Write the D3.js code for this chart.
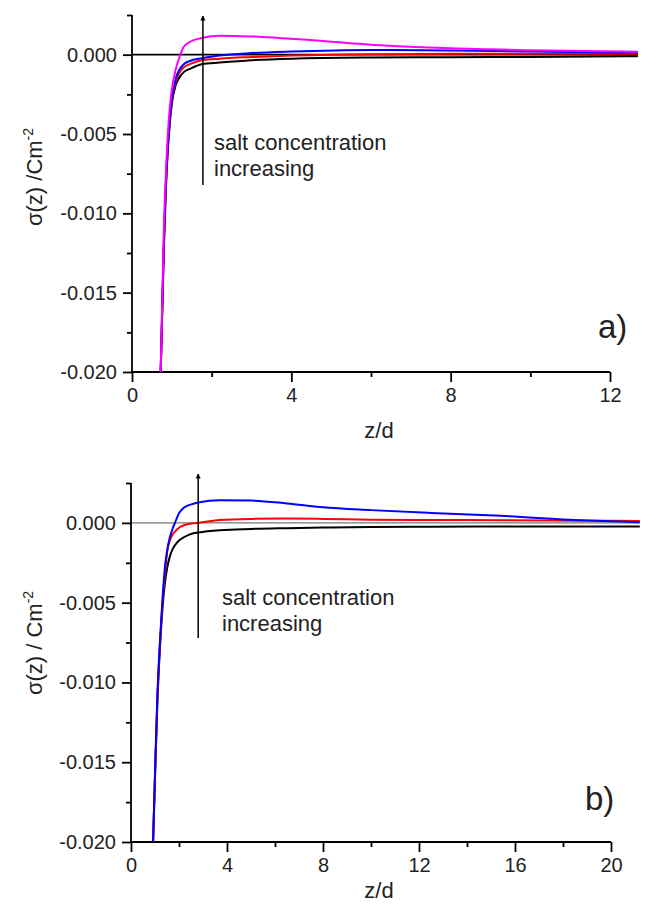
<!DOCTYPE html>
<html>
<head>
<meta charset="utf-8">
<script src="https://cdnjs.cloudflare.com/ajax/libs/d3/7.8.5/d3.min.js"></script>
<style>
  body { margin: 0; background: #fff; }
  text { font-family: Arial, "Liberation Sans", sans-serif; fill: #222; }
</style>
</head>
<body>
<div id="chart"></div>
<script>
// panel a) data
var zA = [0.72, 0.76, 0.80, 0.85, 0.90, 0.95, 1.0, 1.1, 1.2, 1.3, 1.45, 1.75, 2.2, 3.0, 4.0, 6.0, 8.0, 10.0, 12.7];
var blackA = [-0.020, -0.0162, -0.0122, -0.0085, -0.006, -0.0043, -0.0031, -0.0019, -0.0014, -0.0011, -0.0009, -0.0006, -0.0005, -0.00035, -0.00025, -0.00018, -0.00016, -0.00014, -0.0001];
var redA = [-0.020, -0.016, -0.012, -0.0083, -0.0058, -0.0041, -0.0029, -0.0017, -0.0011, -0.0008, -0.0006, -0.00035, -0.00025, -0.00015, -0.00006, 0.00003, 0.00005, 0.00005, 0.00005];
var blueA = [-0.020, -0.0158, -0.0118, -0.0081, -0.0057, -0.004, -0.0028, -0.0015, -0.0009, -0.0006, -0.0004, -0.00022, -0.00005, 0.0001, 0.0002, 0.0003, 0.00027, 0.0002, 0.00012];
var magentaA = [-0.020, -0.0155, -0.011, -0.0075, -0.005, -0.0033, -0.0022, -0.0009, -0.0001, 0.0005, 0.0008, 0.00105, 0.0012, 0.00115, 0.001, 0.00063, 0.0004, 0.00028, 0.00018];

// panel b) data
var zB = [0.92, 1.0, 1.1, 1.2, 1.32, 1.42, 1.51, 1.62, 1.75, 1.83, 2.0, 2.2, 2.6, 2.8, 3.7, 5.0, 6.5, 8.0, 10.0, 12.5, 15.4, 18.8, 21.2];
var blackB = [-0.020, -0.016, -0.0112, -0.008, -0.0052, -0.0037, -0.0028, -0.0021, -0.0016, -0.0014, -0.0011, -0.0009, -0.00065, -0.0006, -0.00046, -0.00038, -0.00033, -0.00029, -0.00025, -0.00024, -0.00023, -0.00022, -0.00022];
var redB = [-0.020, -0.0158, -0.011, -0.0078, -0.0048, -0.0031, -0.0018, -0.0011, -0.0007, -0.00055, -0.0003, -0.00015, -0.00003, 0.0, 0.00018, 0.00025, 0.00027, 0.00025, 0.0002, 0.00018, 0.00017, 0.00014, 0.00012];
var blueB = [-0.020, -0.0157, -0.0108, -0.0076, -0.0046, -0.0027, -0.0017, -0.0009, -0.0003, 0.0, 0.0006, 0.00095, 0.0012, 0.00128, 0.00142, 0.0014, 0.00122, 0.00098, 0.0008, 0.00062, 0.00044, 0.00016, 0.00004];

var yTicks = [0.000, -0.005, -0.010, -0.015, -0.020];
var xTicksA = [0, 4, 8, 12];
var xTicksB = [0, 4, 8, 12, 16, 20];

var svg = d3.select("#chart").append("svg")
  .attr("width", 651)
  .attr("height", 908);

var defs = svg.append("defs");
defs.append("marker")
  .attr("id", "arrow")
  .attr("viewBox", "0 0 10 10")
  .attr("refX", 9).attr("refY", 5)
  .attr("markerWidth", 5).attr("markerHeight", 10)
  .attr("markerUnits", "userSpaceOnUse")
  .attr("orient", "auto")
  .append("path")
  .attr("d", "M0,0 L10,5 L0,10 z")
  .attr("fill", "#000");

function drawPanel(opt) {
  var g = svg.append("g");
  var x = d3.scaleLinear().domain([0, opt.xMax]).range([opt.left, opt.right]);
  var y = d3.scaleLinear().domain([-0.020, 0.0025]).range([opt.bottom, opt.top]);

  // zero line
  g.append("line")
    .attr("x1", x(0)).attr("x2", x(opt.zeroEnd))
    .attr("y1", y(0)).attr("y2", y(0))
    .attr("stroke", opt.zeroColor)
    .attr("stroke-width", opt.zeroWidth);

  // x axis
  var xAxis = d3.axisBottom(x).tickValues(opt.xTicks).tickSize(10).tickPadding(6).tickFormat(d3.format("d"));
  var gx = g.append("g").attr("transform", `translate(0,${opt.bottom})`).call(xAxis);
  var xMinor = d3.axisBottom(x).tickValues(opt.xMinor).tickSize(5).tickFormat("");
  var gxm = g.append("g").attr("transform", `translate(0,${opt.bottom})`).call(xMinor);
  gxm.select(".domain").remove();

  // y axis
  var yAxis = d3.axisLeft(y).tickValues(yTicks).tickSize(9).tickPadding(6).tickFormat(d3.format(".3f"));
  var gy = g.append("g").attr("transform", `translate(${opt.left},0)`).call(yAxis);
  var yMinor = d3.axisLeft(y).tickValues([-0.0175, -0.0125, -0.0075, -0.0025, 0.0025]).tickSize(5).tickFormat("");
  var gym = g.append("g").attr("transform", `translate(${opt.left},0)`).call(yMinor);
  gym.select(".domain").remove();

  [gx, gxm, gy, gym].forEach(function(a) {
    a.selectAll("path, line").attr("stroke", "#000").attr("stroke-width", 1.8);
    a.select(".domain").attr("d", a === gx
      ? `M${opt.left},0H${opt.right}`
      : `M0,${opt.bottom}V${opt.top}`);
    a.selectAll("text").style("font-size", "20px").attr("fill", "#222");
  });
  gy.selectAll(".tick text").text(function(d) { return d3.format(".3f")(d).replace("−", "-"); });

  // curves
  var line = d3.line()
    .x(function(d) { return x(d[0]); })
    .y(function(d) { return y(d[1]); })
    .curve(d3.curveMonotoneX);

  opt.series.forEach(function(s) {
    g.append("path")
      .datum(opt.z.map(function(z, i) { return [z, s.values[i]]; }))
      .attr("fill", "none")
      .attr("stroke", s.color)
      .attr("stroke-width", 2)
      .attr("d", line);
  });

  // arrow
  g.append("line")
    .attr("x1", x(opt.arrowZ)).attr("x2", x(opt.arrowZ))
    .attr("y1", opt.arrowBottom).attr("y2", opt.arrowTop)
    .attr("stroke", "#000").attr("stroke-width", 1.5)
    .attr("marker-end", "url(#arrow)");

  var t = g.append("text")
    .attr("x", opt.textX).attr("y", opt.textY)
    .style("font-size", "22px");
  t.append("tspan").attr("x", opt.textX).text("salt concentration");
  t.append("tspan").attr("x", opt.textX).attr("dy", 26).text("increasing");

  // panel label
  g.append("text")
    .attr("x", opt.labelX).attr("y", opt.labelY)
    .style("font-size", "33px")
    .text(opt.label);

  // axis titles
  g.append("text")
    .attr("x", (opt.left + opt.right) / 2 + 8)
    .attr("y", opt.xLabelY)
    .attr("text-anchor", "middle")
    .style("font-size", "22px")
    .text("z/d");

  var yl = g.append("text")
    .attr("transform", `translate(42,${opt.yLabelY}) rotate(-90)`)
    .attr("text-anchor", "middle")
    .style("font-size", "22px");
  yl.append("tspan").text(opt.yLabel);
  yl.append("tspan").attr("dy", -9).style("font-size", "14px").text("-2");
}

drawPanel({
  left: 132, right: 610, top: 15, bottom: 372,
  xMax: 12, xTicks: xTicksA, xMinor: [2, 6, 10],
  z: zA, zeroEnd: 12.7, zeroColor: "#000", zeroWidth: 1.6,
  series: [
    { color: "#000000", values: blackA },
    { color: "#ff0000", values: redA },
    { color: "#0000ff", values: blueA },
    { color: "#ff00ff", values: magentaA }
  ],
  arrowZ: 1.78, arrowBottom: 185, arrowTop: 16,
  textX: 214, textY: 150,
  label: "a)", labelX: 598, labelY: 338,
  xLabelY: 438,
  yLabel: "σ(z) /Cm", yLabelY: 177
});

drawPanel({
  left: 131, right: 611, top: 483, bottom: 842,
  xMax: 20, xTicks: xTicksB, xMinor: [2, 6, 10, 14, 18],
  z: zB, zeroEnd: 21.2, zeroColor: "#777", zeroWidth: 1.2,
  series: [
    { color: "#000000", values: blackB },
    { color: "#ff0000", values: redB },
    { color: "#0000ff", values: blueB }
  ],
  arrowZ: 2.8, arrowBottom: 638, arrowTop: 474,
  textX: 222, textY: 605,
  label: "b)", labelX: 585, labelY: 810,
  xLabelY: 898,
  yLabel: "σ(z) / Cm", yLabelY: 643
});
</script>
</body>
</html>
